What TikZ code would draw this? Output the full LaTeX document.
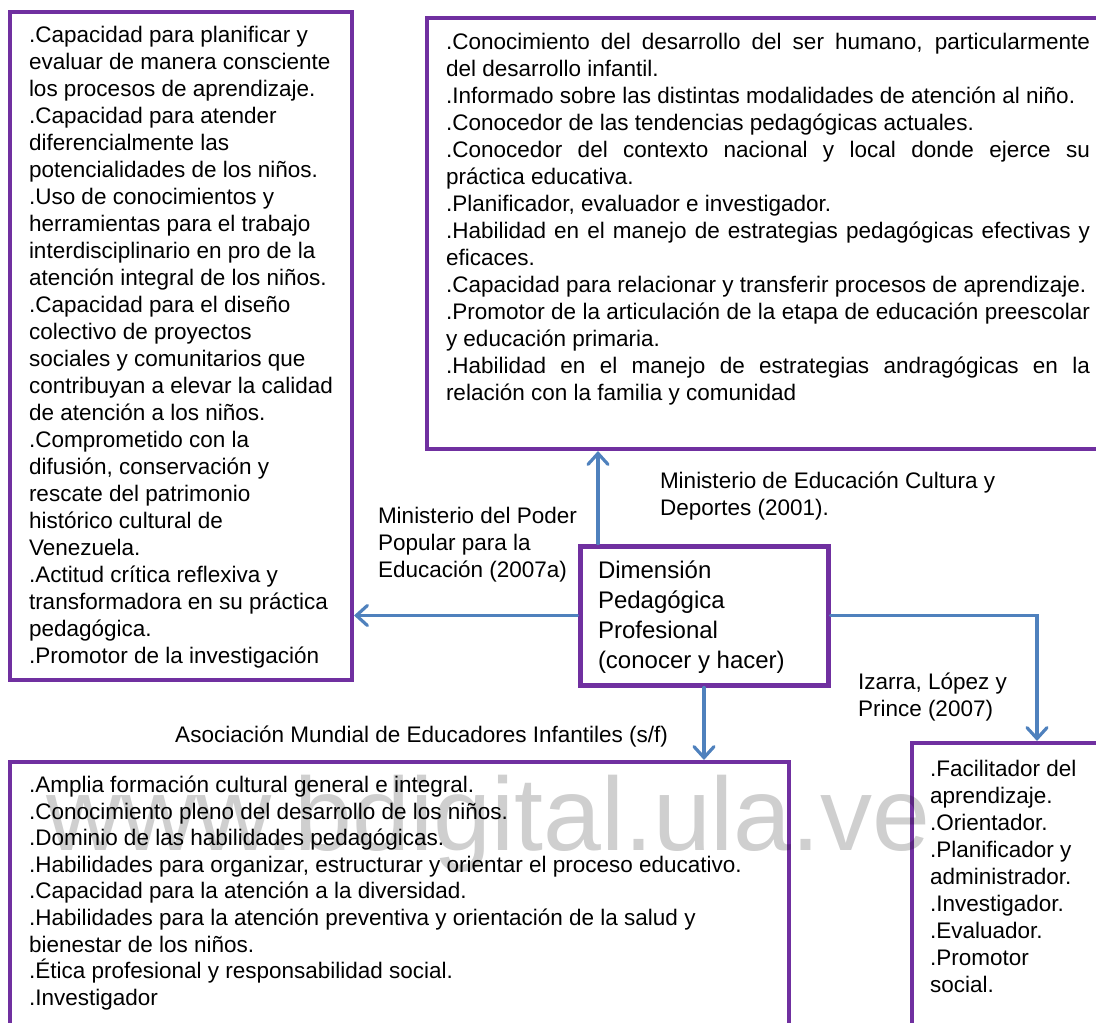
\documentclass[tikz,border=0pt]{standalone}
\usepackage{fontspec}
\setmainfont{Liberation Sans}
\usetikzlibrary{arrows.meta}
\definecolor{framepurple}{RGB}{112,48,160}
\definecolor{linkblue}{RGB}{79,129,189}

\begin{document}
\begin{tikzpicture}[x=1pt,y=-1pt,
  frame/.style={draw=framepurple, line width=4pt, rectangle, inner sep=0pt},
  conn/.style={draw=linkblue, line width=3.2pt, line cap=round,
    -{Straight Barb[length=11pt,width=20pt,line cap=round]}},
  body/.style={anchor=base west, inner sep=0pt, outer sep=0pt,
    font=\fontsize{22.5}{27}\selectfont},
  title/.style={anchor=base west, inner sep=0pt, outer sep=0pt,
    font=\fontsize{24}{30}\selectfont},
]
\useasboundingbox (0,0) rectangle (1096,1023);
\clip (0,0) rectangle (1096,1023);

% frames
\node[frame, minimum width=342pt, minimum height=668pt] (leftbox) at (181,346) {};
\node[frame, minimum width=683pt, minimum height=431pt] (topbox) at (768.5,233.5) {};
\node[frame, line width=5pt, minimum width=248pt, minimum height=139pt] (cbox) at (704,615.5) {};
\node[frame, minimum width=779pt, minimum height=278pt] (botbox) at (399.5,901) {};
\node[frame, minimum width=198pt, minimum height=297pt] (rbox) at (1011,891.5) {};

% contents
\node[body] (lefttxt) at (29,42.5) {\parbox[t]{320pt}{\raggedright
.Capacidad para planificar y\\
evaluar de manera consciente\\
los procesos de aprendizaje.\\
.Capacidad para atender\\
diferencialmente las\\
potencialidades de los niños.\\
.Uso de conocimientos y\\
herramientas para el trabajo\\
interdisciplinario en pro de la\\
atención integral de los niños.\\
.Capacidad para el diseño\\
colectivo de proyectos\\
sociales y comunitarios que\\
contribuyan a elevar la calidad\\
de atención a los niños.\\
.Comprometido con la\\
difusión, conservación y\\
rescate del patrimonio\\
histórico cultural de\\
Venezuela.\\
.Actitud crítica reflexiva y\\
transformadora en su práctica\\
pedagógica.\\
.Promotor de la investigación}};

\node[body] (toptxt) at (446,49) {\parbox[t]{644pt}{\hyphenpenalty=10000 \exhyphenpenalty=10000
.Conocimiento del desarrollo del ser humano, particularmente\linebreak
del desarrollo infantil.\par
.Informado sobre las distintas modalidades de atención al niño.\par
.Conocedor de las tendencias pedagógicas actuales.\par
.Conocedor del contexto nacional y local donde ejerce su\linebreak
práctica educativa.\par
.Planificador, evaluador e investigador.\par
.Habilidad en el manejo de estrategias pedagógicas efectivas y\linebreak
eficaces.\par
.Capacidad para relacionar y transferir procesos de aprendizaje.\par
.Promotor de la articulación de la etapa de educación preescolar\linebreak
y educación primaria.\par
.Habilidad en el manejo de estrategias andragógicas en la\linebreak
relación con la familia y comunidad}};

\node[title] (ctxt) at (598,578) {\parbox[t]{225pt}{\raggedright
Dimensión\\ Pedagógica\\ Profesional\\ (conocer y hacer)}};

\node[body, font=\fontsize{22.5}{26.6}\selectfont] (bottxt) at (29,792.5) {\parbox[t]{750pt}{\raggedright
.Amplia formación cultural general e integral.\\
.Conocimiento pleno del desarrollo de los niños.\\
.Dominio de las habilidades pedagógicas.\\
.Habilidades para organizar, estructurar y orientar el proceso educativo.\\
.Capacidad para la atención a la diversidad.\\
.Habilidades para la atención preventiva y orientación de la salud y\\
bienestar de los niños.\\
.Ética profesional y responsabilidad social.\\
.Investigador}};

\node[body] (rtxt) at (930,776) {\parbox[t]{170pt}{\raggedright
.Facilitador del\\
aprendizaje.\\
.Orientador.\\
.Planificador y\\
administrador.\\
.Investigador.\\
.Evaluador.\\
.Promotor\\
social.}};

% source labels
\node[body] (srcleft) at (378,523) {\parbox[t]{200pt}{\raggedright
Ministerio del Poder\\ Popular para la\\ Educación (2007a)}};
\node[body] (srctop) at (660,488) {\parbox[t]{400pt}{\raggedright
Ministerio de Educación Cultura y\\ Deportes (2001).}};
\node[body, anchor=base east] (srcbot) at (668,742) {Asociación Mundial de Educadores Infantiles (s/f)};
\node[body] (srcright) at (858,689) {\parbox[t]{200pt}{\raggedright
Izarra, López y\\ Prince (2007)}};

% connectors
\coordinate (upx) at (598,0);
\coordinate (rightx) at (1037,0);
\draw[conn] (cbox.north -| upx) -- (topbox.south -| upx);
\draw[conn] (cbox.west) -- (cbox.west -| leftbox.east);
\draw[conn] (cbox.south) -- (botbox.north -| cbox.south);
\draw[conn] (cbox.east) -- (cbox.east -| rightx) -- (rbox.north -| rightx);

% repository mark
\node[anchor=base west, inner sep=0pt, text=black, text opacity=0.19,
  font=\fontsize{104}{104}\selectfont] (mark) at (46,850) {www.bdigital.ula.ve};
\end{tikzpicture}
\end{document}
